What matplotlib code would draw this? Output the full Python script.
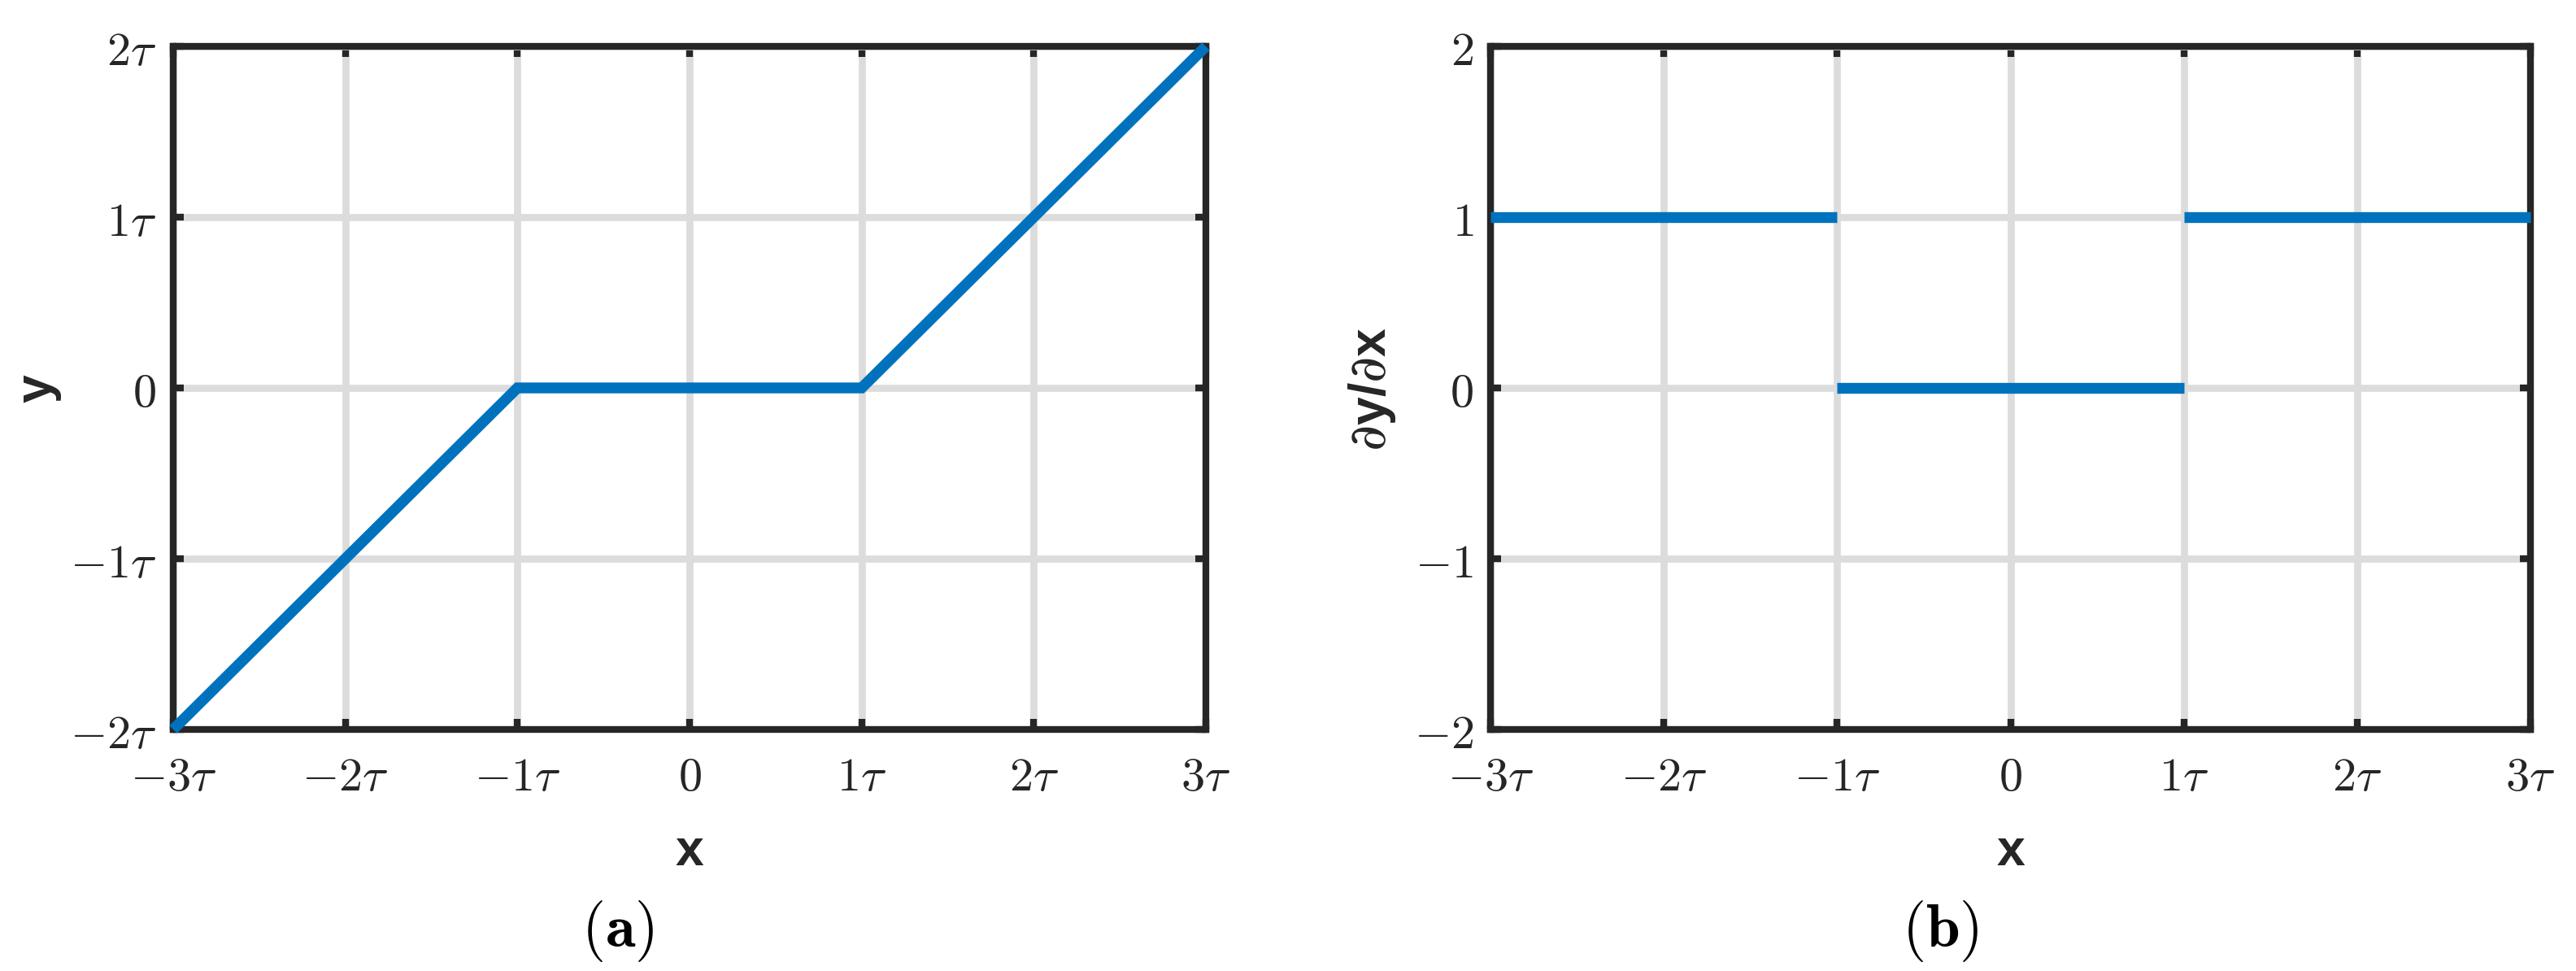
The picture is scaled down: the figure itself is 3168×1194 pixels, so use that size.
import matplotlib
matplotlib.use("Agg")
import matplotlib.pyplot as plt

# --- data (x and y in units of tau) ---
x_ticks = [-3, -2, -1, 0, 1, 2, 3]
x_tick_labels = [r"$-3\tau$", r"$-2\tau$", r"$-1\tau$", r"$0$", r"$1\tau$", r"$2\tau$", r"$3\tau$"]
y_ticks = [-2, -1, 0, 1, 2]
y_tick_labels_a = [r"$-2\tau$", r"$-1\tau$", r"$0$", r"$1\tau$", r"$2\tau$"]
y_tick_labels_b = [r"$-2$", r"$-1$", r"$0$", r"$1$", r"$2$"]

# (a) y(x): piecewise linear with dead zone
curve_x = [-3, -1, 1, 3]
curve_y = [-2, 0, 0, 2]

# (b) dy/dx: piecewise constant
seg_start = [-3, -1, 1]
seg_end = [-1, 1, 3]
seg_value = [1, 0, 1]

# --- style ---
BLUE = "#0072BD"
DARK = "#262626"
GRID = "#dcdcdc"

plt.rcParams["mathtext.fontset"] = "cm"
plt.rcParams["mathtext.rm"] = "DejaVu Serif"
plt.rcParams["mathtext.it"] = "DejaVu Serif:italic"
plt.rcParams["mathtext.bf"] = "Liberation Sans:bold"

fig = plt.figure(figsize=(10.56, 3.9833), dpi=300)
ax_a = fig.add_axes([213 / 3168, 1 - 898 / 1195, 1270 / 3168, 840 / 1195])
ax_b = fig.add_axes([1833 / 3168, 1 - 898 / 1195, 1279 / 3168, 840 / 1195])


def style_axes(ax, ylabels):
    ax.set_xlim(-3, 3)
    ax.set_ylim(-2, 2)
    ax.set_xticks(x_ticks)
    ax.set_xticklabels(x_tick_labels)
    ax.set_yticks(y_ticks)
    ax.set_yticklabels(ylabels)
    ax.grid(True, color=GRID, linewidth=2.1, zorder=0)
    ax.set_axisbelow(True)
    for s in ax.spines.values():
        s.set_linewidth(2.0)
        s.set_color(DARK)
    ax.tick_params(direction="in", length=3.2, width=2.0, color=DARK,
                   top=True, right=True, labelsize=14, labelcolor=DARK)
    ax.tick_params(axis="x", pad=7)
    ax.tick_params(axis="y", pad=5)
    ax.set_xlabel("x", fontsize=15, fontweight="bold", family="Liberation Sans",
                  color=DARK, va="center")
    ax.xaxis.set_label_coords(0.5, -0.1774)


# --- (a) ---
style_axes(ax_a, y_tick_labels_a)
ax_a.plot(curve_x, curve_y, color=BLUE, linewidth=3.2, solid_joinstyle="miter",
          solid_capstyle="butt", clip_on=False, zorder=3)
ax_a.set_ylabel("y", fontsize=15, fontweight="bold", family="Liberation Sans",
                color=DARK, va="center")
ax_a.yaxis.set_label_coords(-0.1315, 0.5)

# --- (b) ---
style_axes(ax_b, y_tick_labels_b)
ax_b.hlines(seg_value, seg_start, seg_end, color=BLUE, linewidth=3.2,
            capstyle="butt", clip_on=False, zorder=3)
ax_b.set_ylabel(r"$\mathit{\partial}\mathbf{y/}\mathit{\partial}\mathbf{x}$",
                fontsize=15, color=DARK, va="center", math_fontfamily="custom")
ax_b.yaxis.set_label_coords(-0.1134, 0.5)

# --- panel captions ---
fig.text(760 / 3168, 1 - 1145 / 1195, r"$(\mathbf{a})$", fontsize=18,
         ha="center", va="center")
fig.text(2386 / 3168, 1 - 1145 / 1195, r"$(\mathbf{b})$", fontsize=18,
         ha="center", va="center")

fig.savefig("out.png", dpi=300)
